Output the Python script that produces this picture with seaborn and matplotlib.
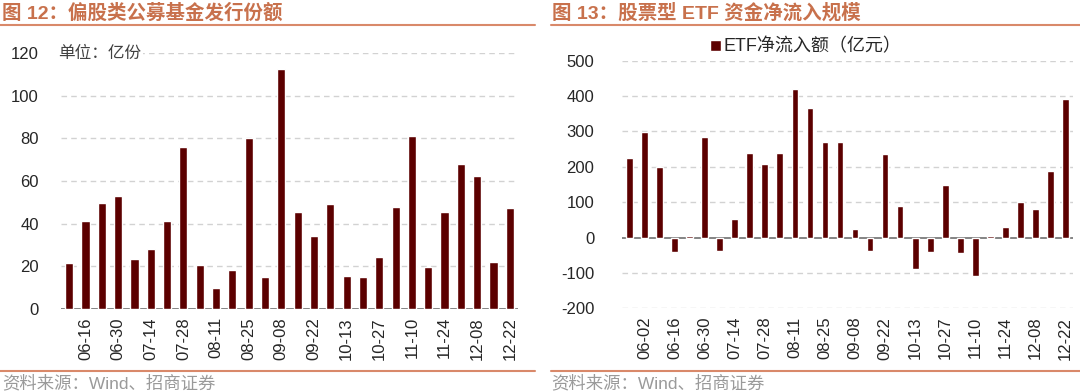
import matplotlib
matplotlib.use("Agg")
import matplotlib.pyplot as plt
import pandas as pd
import seaborn as sns
from matplotlib.lines import Line2D

# ---- data: left chart (偏股类公募基金发行份额, 亿份) ----
fund_dates = ["06-09", "06-16", "06-23", "06-30", "07-07", "07-14", "07-21", "07-28",
              "08-04", "08-11", "08-18", "08-25", "09-01", "09-08", "09-15", "09-22",
              "10-06", "10-13", "10-20", "10-27", "11-03", "11-10", "11-17", "11-24",
              "12-01", "12-08", "12-15", "12-22"]
fund_values = [21.7, 41.1, 49.8, 53.1, 23.3, 28.0, 41.4, 76.1,
               20.5, 9.5, 18.1, 80.3, 15.0, 112.7, 45.2, 34.1,
               49.4, 15.5, 15.0, 24.4, 47.8, 81.1, 19.8, 45.2,
               68.1, 62.3, 22.0, 47.5]

# ---- data: right chart (ETF净流入额, 亿元) ----
etf_dates = ["05-26", "06-02", "06-09", "06-16", "06-23", "06-30", "07-07", "07-14",
             "07-21", "07-28", "08-04", "08-11", "08-18", "08-25", "09-01", "09-08",
             "09-15", "09-22", "10-06", "10-13", "10-20", "10-27", "11-03", "11-10",
             "11-17", "11-24", "12-01", "12-08", "12-15", "12-22"]
etf_values = [224, 299, 200, -41, 4, 284, -38, 53, 238, 207, 239, 421, 365, 271, 269,
              25, -39, 236, 88, -89, -41, 150, -44, -109, 4, 29, 101, 80, 189, 393]

left_title = "图 12：偏股类公募基金发行份额"
right_title = "图 13：股票型 ETF 资金净流入规模"
source_text = "资料来源：Wind、招商证券"
unit_text = "单位：亿份"
legend_text = "ETF净流入额（亿元）"

BAR = "#5c0000"
ORANGE = "#c8714c"
LINE = "#d9896a"
GRID = "#d2d2d2"

sns.set_style("white")
plt.rcParams['font.family'] = ['Liberation Sans', 'Noto Sans CJK SC', 'DejaVu Sans']
plt.rcParams['axes.unicode_minus'] = False

fig = plt.figure(figsize=(10.8, 3.92), dpi=100)

ax1 = fig.add_axes([61/1080, 1-308.7/392, 457/1080, 255.4/392])
ax2 = fig.add_axes([622/1080, 1-308.3/392, 451/1080, 247.6/392])

df1 = pd.DataFrame({"date": fund_dates, "value": fund_values})
df2 = pd.DataFrame({"date": etf_dates, "value": etf_values})

sns.barplot(data=df1, x="date", y="value", color=BAR, width=0.5, saturation=1,
            ax=ax1, zorder=3)
sns.barplot(data=df2, x="date", y="value", color=BAR, width=0.45, saturation=1,
            ax=ax2, zorder=3, label=legend_text)

ax1.set_ylim(0, 120)
ax1.set_yticks(range(0, 121, 20))
ax2.set_ylim(-200, 500)
ax2.set_yticks(range(-200, 501, 100))

for ax, dates in ((ax1, fund_dates), (ax2, etf_dates)):
    ax.set_xlabel("")
    ax.set_ylabel("")
    idx = list(range(1, len(dates), 2))
    ax.set_xticks(idx)
    ax.set_xticklabels([dates[i] for i in idx], rotation=90, fontsize=12)
    ax.tick_params(axis="y", labelsize=12, length=0)
    ax.tick_params(axis="x", length=0, pad=6)
    ax.set_xlim(-0.5, len(dates) - 0.5)
    ax.yaxis.grid(True, linestyle=(0, (4, 3)), color=GRID, linewidth=1)
    # no dashed grid on the zero line, a solid axis line goes there
    for tick_val, gl in zip(ax.get_yticks(), ax.get_ygridlines()):
        if tick_val == 0:
            gl.set_visible(False)
    for s in ("top", "right", "left", "bottom"):
        ax.spines[s].set_visible(False)
    ax.axhline(0, color="#707070", linewidth=1.2, zorder=2)

ax1.tick_params(axis="y", pad=16)
ax1.text(-0.68, 120, unit_text, fontsize=12, color="#404040", va="center", ha="left",
         family=['Noto Sans CJK SC'], zorder=5,
         bbox=dict(facecolor="white", edgecolor="none", pad=1))

ax2.tick_params(axis="y", pad=20)
leg = ax2.legend(loc="center left", bbox_to_anchor=(0.195, 1.055), frameon=False,
                 fontsize=13, handlelength=0.6, handleheight=0.6, handletextpad=0.15,
                 borderaxespad=0, borderpad=0)

# titles, rules and sources
fig.text(2/1080, 1-13/392, left_title, fontsize=14, fontweight="bold", color=ORANGE,
         va="center", ha="left")
fig.text(552/1080, 1-13/392, right_title, fontsize=14, fontweight="bold", color=ORANGE,
         va="center", ha="left")
for x0, x1 in ((0, 535), (551, 1080)):
    fig.add_artist(Line2D([x0/1080, x1/1080], [1-24.5/392]*2, color=LINE, linewidth=1.5))
    fig.add_artist(Line2D([x0/1080, x1/1080], [1-370.5/392]*2, color=LINE, linewidth=1.5))
fig.text(2/1080, 1-383/392, source_text, fontsize=12.5, color="#9a9a9a", va="center", ha="left")
fig.text(551/1080, 1-383/392, source_text, fontsize=12.5, color="#9a9a9a", va="center", ha="left")

fig.savefig("out.png", dpi=100)
